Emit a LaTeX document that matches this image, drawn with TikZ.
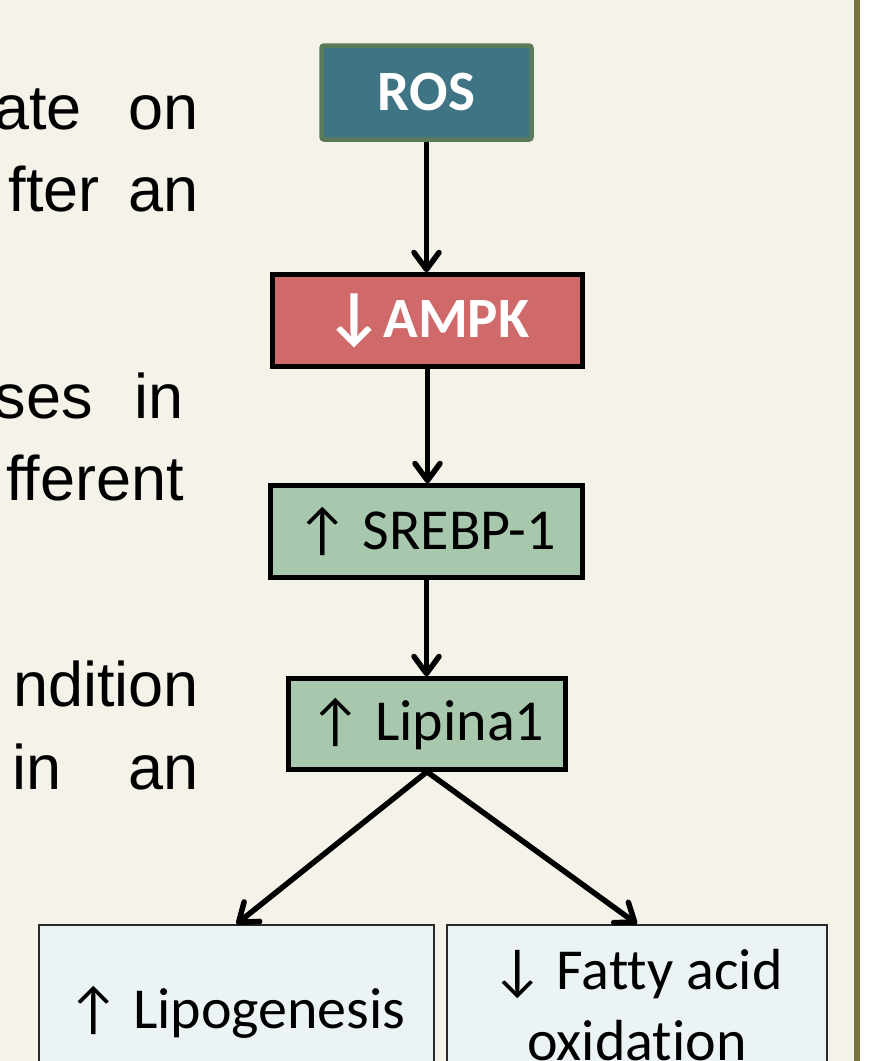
\documentclass[tikz,border=0pt]{standalone}
\usepackage{fontspec}
\setmainfont{Carlito}[Ligatures=NoCommon]
\newfontfamily\arialfont{Liberation Sans}
\usetikzlibrary{arrows.meta}
\definecolor{bgcream}{HTML}{F5F2EA}
\definecolor{rosfill}{HTML}{3E7483}
\definecolor{rosdraw}{HTML}{5B7B58}
\definecolor{ampkfill}{HTML}{D0696A}
\definecolor{greenfill}{HTML}{A8C8AD}
\definecolor{bluefill}{HTML}{EBF3F5}
\definecolor{olive}{HTML}{7B733C}
\definecolor{boxgray}{HTML}{2A2A2A}
\tikzset{
  x=1pt, y=-1pt,
  flowbox/.style={draw=black, line width=4.5pt, inner sep=0pt, align=center},
  outbox/.style={draw=boxgray, line width=2pt, fill=bluefill, inner sep=0pt, align=center,
    font=\fontsize{58}{71}\selectfont},
  flow/.style={line width=5.5pt, -{Straight Barb[length=17pt,width=25pt,line width=5.5pt,round]}},
  sidetext/.style={inner sep=0pt, font=\arialfont\fontsize{63}{72}\selectfont}
}
\begin{document}
\begin{tikzpicture}
\useasboundingbox (0,0) rectangle (878,1061);
\clip (0,0) rectangle (878,1061);
\fill[bgcream] (0,0) rectangle (854,1061);
\fill[olive] (854,0) rectangle (860,1061);
\fill[white] (860,0) rectangle (878,1061);

% left text (cut off at the edge)
\node[sidetext, anchor=base east] (w1a) at (82,129) {ate};
\node[sidetext, anchor=base east] (w1b) at (199,129) {on};
\node[sidetext, anchor=base east] (w2a) at (100,211) {fter};
\node[sidetext, anchor=base east] (w2b) at (199,211) {an};
\node[sidetext, anchor=base east] (w3a) at (93,418) {ses};
\node[sidetext, anchor=base east] (w3b) at (184,418) {in};
\node[sidetext, anchor=base east] (w4a) at (184,500) {fferent};
\node[sidetext, anchor=base east] (w5a) at (199,706) {ndition};
\node[sidetext, anchor=base east] (w6a) at (62,789) {in};
\node[sidetext, anchor=base east] (w6b) at (199,789) {an};

% flow boxes
\node[flowbox, draw=rosdraw, line width=4.5pt, fill=rosfill, rounded corners=2.5pt, minimum width=210pt, minimum height=94pt,
  text=white, font=\bfseries\fontsize{57}{60}\selectfont] (ros) at (426.5,92.5) {ROS};
\node[flowbox, fill=ampkfill, minimum width=310pt, minimum height=92pt,
  text=white, font=\bfseries\fontsize{57}{60}\selectfont] (ampk) at (427.5,320.5) {{\fontsize{64}{60}\selectfont↓}AMPK};
\node[flowbox, fill=greenfill, minimum width=312pt, minimum height=92pt,
  font=\fontsize{58}{60}\selectfont] (srebp) at (426.5,531.5) {↑ SREBP-1};
\node[flowbox, fill=greenfill, minimum width=277pt, minimum height=91pt,
  font=\fontsize{58}{60}\selectfont] (lip) at (427,724) {↑ Lipina1};

\node[outbox, minimum width=395pt, minimum height=174pt, anchor=north] (lipo) at (236.5,924) {↑ Lipogenesis};
\node[outbox, minimum width=380pt, minimum height=160pt, anchor=north] (fat) at (637,924) {↓ Fatty acid\\oxidation};

% connectors
\draw[flow] (ros.south) -- (ros.south |- ampk.north);
\draw[flow] (ampk.south) -- (ampk.south |- srebp.north);
\draw[flow] (srebp.south) -- (srebp.south |- lip.north);
\draw[flow] (lip.south) -- (lipo.north);
\draw[flow] (lip.south) -- (fat.north);
\end{tikzpicture}
\end{document}
